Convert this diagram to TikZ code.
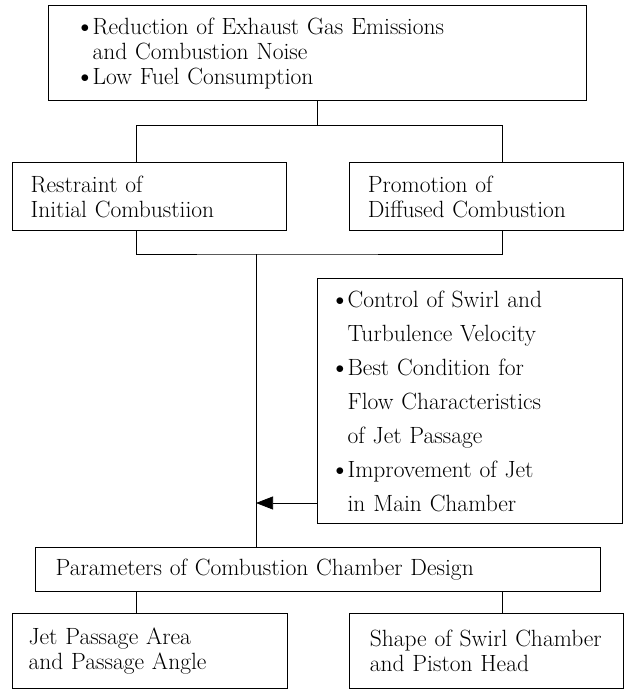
\documentclass[tikz,border=0pt]{standalone}
\usetikzlibrary{arrows.meta, positioning, calc}
\newcommand{\boxfont}[1][25]{\fontsize{23.5}{#1}\selectfont\spaceskip=11pt plus 2pt minus 1pt}
\newcommand{\bul}{\makebox[12pt][l]{\raisebox{1.5pt}{\fontsize{16}{16}\selectfont$\bullet$}}}
\newcommand{\ind}{\hspace*{12pt}}
\tikzset{
    box/.style={rectangle, draw, line width=1.2pt, anchor=north west, align=left,
        inner xsep=18pt, inner ysep=0pt, font=\boxfont},
    link/.style={line width=0.7pt},
    arrow/.style={link, -{Triangle[length=17pt, width=13pt]}}
}

\begin{document}
\begin{tikzpicture}[x=1pt, y=-1pt]
    \useasboundingbox (0,0) rectangle (625,690);

    \node[box, inner xsep=32pt, text width=474pt, minimum height=95pt] (goal) at (48,5)
        {\bul Reduction of Exhaust Gas Emissions\\\ind and Combustion Noise\\\bul Low Fuel Consumption};

    \node[box, text width=238pt, minimum height=68pt] (restraint) at (12,162) {Restraint of\\Initial Combustiion};
    \node[box, text width=238pt, minimum height=68pt, right=62pt of restraint] (promotion) {Promotion of\\Diffused Combustion};

    \node[box, text width=269pt, minimum height=245pt, font={\boxfont[34]}] (bullets) at (317,278)
        {\bul Control of Swirl and\\\ind Turbulence Velocity\\\bul Best Condition for\\\ind Flow Characteristics\\\ind of Jet Passage\\\bul Improvement of Jet\\\ind in Main Chamber};

    \node[box, inner xsep=20pt, text width=525pt, minimum height=44pt] (params) at (35,547) {Parameters of Combustion Chamber Design};

    \node[box, inner xsep=16pt, text width=243pt, minimum height=75pt] (jet) at (12,613) {Jet Passage Area\\and Passage Angle};
    \node[box, inner xsep=20pt, text width=234pt, minimum height=75pt, right=61pt of jet] (shape) {Shape of Swirl Chamber\\and Piston Head};

    % drop points of the brackets
    \coordinate (lx) at (136,0);
    \coordinate (rx) at (502,0);
    \coordinate (trunk) at (256,254);
    \coordinate (hit) at (256,503);

    \draw[link] (goal.south) -- ++(0,24) coordinate (tj);
    \draw[link] (restraint.north -| lx) |- (tj) -| (promotion.north -| rx);
    \draw[link] (restraint.south -| lx) |- (trunk) -| (promotion.south -| rx);
    \draw[link] (trunk) -- (params.north -| trunk);
    \draw[arrow] (bullets.west |- hit) -- (hit);
    \draw[link] (params.south -| lx) -- (jet.north -| lx);
    \draw[link] (params.south -| rx) -- (shape.north -| rx);

\end{tikzpicture}
\end{document}
